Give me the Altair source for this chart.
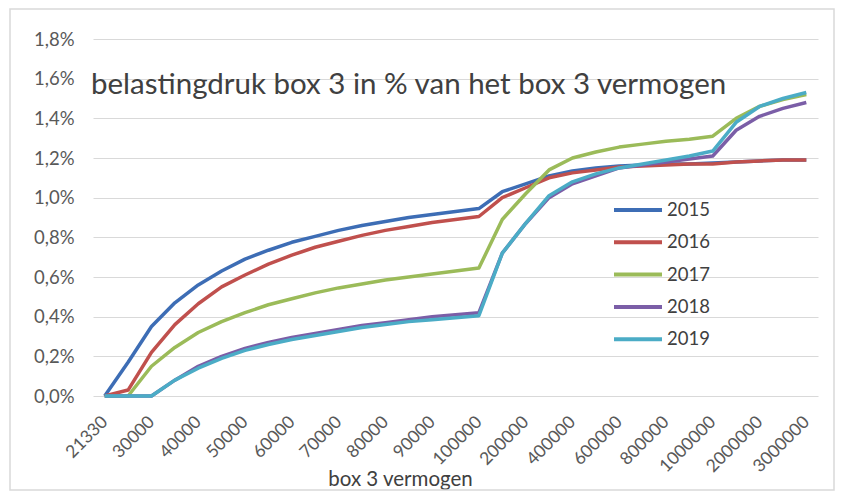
import altair as alt
import pandas as pd

categories = ["21330", "25000", "30000", "35000", "40000", "45000", "50000", "55000",
              "60000", "65000", "70000", "75000", "80000", "85000", "90000", "95000",
              "100000", "150000", "200000", "300000", "400000", "500000", "600000",
              "700000", "800000", "900000", "1000000", "1500000", "2000000", "2500000",
              "3000000"]
tick_labels = ["21330", "30000", "40000", "50000", "60000", "70000", "80000", "90000",
               "100000", "200000", "400000", "600000", "800000", "1000000", "2000000",
               "3000000"]
years = ["2015", "2016", "2017", "2018", "2019"]
title_text = "belastingdruk box 3 in % van het box 3 vermogen"

v2015 = [0.00, 0.17, 0.35, 0.47, 0.56, 0.63, 0.69, 0.735, 0.775, 0.805, 0.835, 0.86, 0.88,
         0.90, 0.915, 0.93, 0.945, 1.03, 1.07, 1.11, 1.135, 1.15, 1.16, 1.165, 1.17, 1.17,
         1.175, 1.18, 1.185, 1.19, 1.19]
v2016 = [0.00, 0.03, 0.22, 0.36, 0.465, 0.55, 0.61, 0.665, 0.71, 0.75, 0.78, 0.81, 0.835,
         0.855, 0.875, 0.89, 0.905, 1.00, 1.05, 1.10, 1.125, 1.14, 1.155, 1.16, 1.165, 1.17,
         1.17, 1.18, 1.185, 1.19, 1.19]
v2017 = [0.00, 0.00, 0.15, 0.245, 0.32, 0.375, 0.42, 0.46, 0.49, 0.52, 0.545, 0.565, 0.585,
         0.60, 0.615, 0.63, 0.645, 0.89, 1.02, 1.14, 1.20, 1.23, 1.255, 1.27, 1.285, 1.295,
         1.31, 1.40, 1.46, 1.495, 1.52]
v2018 = [0.00, 0.00, 0.00, 0.08, 0.15, 0.20, 0.24, 0.27, 0.295, 0.315, 0.335, 0.355, 0.37,
         0.385, 0.40, 0.41, 0.42, 0.72, 0.87, 1.00, 1.07, 1.11, 1.15, 1.165, 1.18, 1.195,
         1.21, 1.34, 1.41, 1.45, 1.48]
v2019 = [0.00, 0.00, 0.00, 0.08, 0.14, 0.19, 0.23, 0.26, 0.285, 0.305, 0.325, 0.345, 0.36,
         0.375, 0.385, 0.395, 0.405, 0.72, 0.87, 1.01, 1.08, 1.12, 1.15, 1.17, 1.19, 1.21,
         1.235, 1.38, 1.46, 1.50, 1.53]
colors = ["#3d6db5", "#c0504d", "#9bbb59", "#7b5ea7", "#4bacc6"]

series = [v2015, v2016, v2017, v2018, v2019]
rows = []
for yr, vals in zip(years, series):
    for c, v in zip(categories, vals):
        rows.append({"cat": c, "jaar": yr, "v": v})
df = pd.DataFrame(rows)

FONT = "Lato"

lines = alt.Chart(df).mark_line(strokeWidth=3.5, strokeJoin="round").encode(
    x=alt.X("cat:N", sort=categories,
            scale=alt.Scale(type="point", padding=0.5),
            axis=alt.Axis(values=tick_labels, labelAngle=-45, labelAlign="right",
                          labelBaseline="middle", labelPadding=23, labelOffset=0,
                          labelFontSize=17.5, labelColor="#595959", ticks=False,
                          domain=False, grid=False, labelOverlap=False,
                          title="box 3 vermogen", titleFontSize=20.5,
                          titleFontWeight="normal", titleColor="#404040",
                          titleX=307, titleY=89, titleAlign="center",
                          titleBaseline="alphabetic")),
    y=alt.Y("v:Q", scale=alt.Scale(domain=[0, 1.8], nice=False),
            axis=alt.Axis(values=[0, 0.2, 0.4, 0.6, 0.8, 1.0, 1.2, 1.4, 1.6, 1.8],
                          labelExpr="replace(format(datum.value, '.1f'), '.', ',') + '%'",
                          labelFontSize=18.5, labelColor="#595959", labelPadding=19,
                          ticks=False, domain=False, grid=True, gridColor="#d9d9d9",
                          gridWidth=1, title=None)),
    color=alt.Color("jaar:N", scale=alt.Scale(domain=years, range=colors),
                    legend=alt.Legend(orient="none", legendX=519, legendY=155,
                                      title=None, symbolType="stroke",
                                      symbolStrokeWidth=4, symbolSize=2304,
                                      clipHeight=32, rowPadding=0.3,
                                      labelFontSize=18.5, labelColor="#404040",
                                      labelOffset=3)),
)

title = alt.Chart(pd.DataFrame({"t": [title_text]})).mark_text(
    align="left", baseline="alphabetic", fontSize=29.5, color="#404040", font=FONT
).encode(text="t:N", x=alt.value(-2), y=alt.value(55))

frame = alt.Chart(pd.DataFrame({"a": [0]})).mark_rect(
    filled=False, stroke="#d9d9d9", strokeWidth=1.5
).encode(x=alt.value(-83), x2=alt.value(741), y=alt.value(-30), y2=alt.value(451))

chart = alt.layer(frame, lines, title).properties(
    width=725, height=357,
    autosize=alt.AutoSizeParams(type="none"),
    padding={"left": 85, "top": 31, "right": 18, "bottom": 96},
).configure(font=FONT).configure_view(stroke=None)

chart.save("out.html", embed_options={"renderer": "svg", "actions": False})
